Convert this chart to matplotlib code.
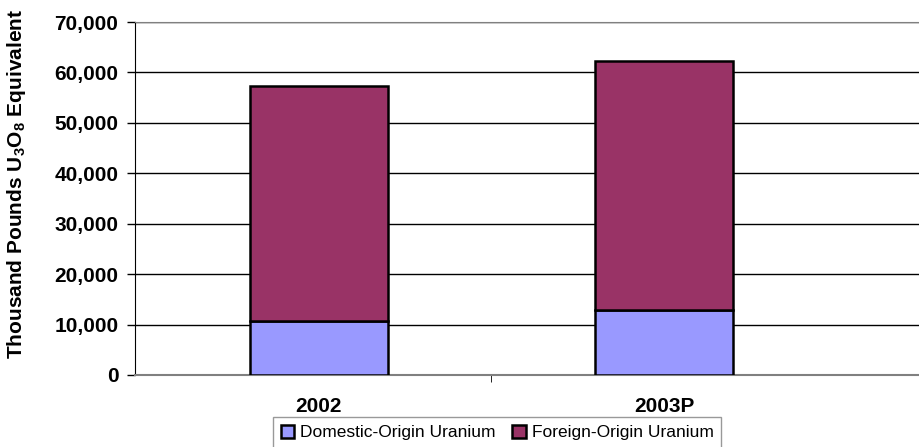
import matplotlib
matplotlib.use("Agg")
import matplotlib.pyplot as plt
import matplotlib.ticker as ticker
import numpy as np

years = ['2002', '2003P']
domestic = [10650, 12960]
foreign = [46750, 49400]

plt.rcParams['font.family'] = ['Liberation Sans', 'DejaVu Sans']
plt.rcParams['mathtext.fontset'] = 'custom'
plt.rcParams['mathtext.bf'] = 'Liberation Sans:bold'
plt.rcParams['mathtext.rm'] = 'Liberation Sans'

fig = plt.figure(figsize=(9.19, 4.47), dpi=100)
ax = fig.add_axes([135 / 919, 1 - 375 / 447, 1 - 135 / 919, 353 / 447])

x = np.arange(len(years))
ax.bar(x, domestic, width=0.4, color='#9999FF', edgecolor='black', linewidth=1.8,
       label='Domestic-Origin Uranium', zorder=3)
ax.bar(x, foreign, width=0.4, bottom=domestic, color='#993366', edgecolor='black',
       linewidth=1.8, label='Foreign-Origin Uranium', zorder=3)

ax.set_xlim(-0.533, 1.739)
ax.set_ylim(0, 70000)
ax.yaxis.set_major_locator(ticker.MultipleLocator(10000))
ax.yaxis.set_major_formatter(ticker.FuncFormatter(lambda v, p: f'{int(v):,}'))
ax.set_axisbelow(True)
ax.yaxis.grid(True, color='black', linewidth=1.0)

ax.set_xticks(x)
ax.set_xticklabels(years, fontsize=15, fontweight='bold')
ax.tick_params(axis='x', which='major', length=0, pad=16)
ax.xaxis.set_minor_locator(ticker.FixedLocator([0.5]))
ax.tick_params(axis='x', which='minor', length=5, direction='out', color='black')
ax.tick_params(axis='y', length=6, width=1, pad=6, labelsize=15)
for t in ax.get_yticklabels():
    t.set_fontweight('bold')

ax.spines['right'].set_visible(False)
ax.spines['top'].set_color('#808080')
ax.spines['bottom'].set_color('#808080')
ax.spines['bottom'].set_linewidth(1.5)
ax.spines['left'].set_color('black')

ax.set_ylabel(r'Thousand Pounds U$_\mathbf{3}$O$_\mathbf{8}$ Equivalent', fontsize=15,
              fontweight='bold')
ax.yaxis.label.set_verticalalignment('center')
ax.yaxis.set_label_coords((17 - 135) / 784, (375 - 184) / 353)

leg = fig.legend(loc='upper center', bbox_to_anchor=(497 / 919, 1 - 417 / 447), ncol=2,
                 fontsize=12.5, frameon=True, fancybox=False, handlelength=0.8,
                 handleheight=0.8, handletextpad=0.3, columnspacing=1.0,
                 borderpad=0.45, borderaxespad=0)
leg.get_frame().set_edgecolor('#808080')
leg.get_frame().set_linewidth(1.0)

fig.savefig('out.png', dpi=100)
